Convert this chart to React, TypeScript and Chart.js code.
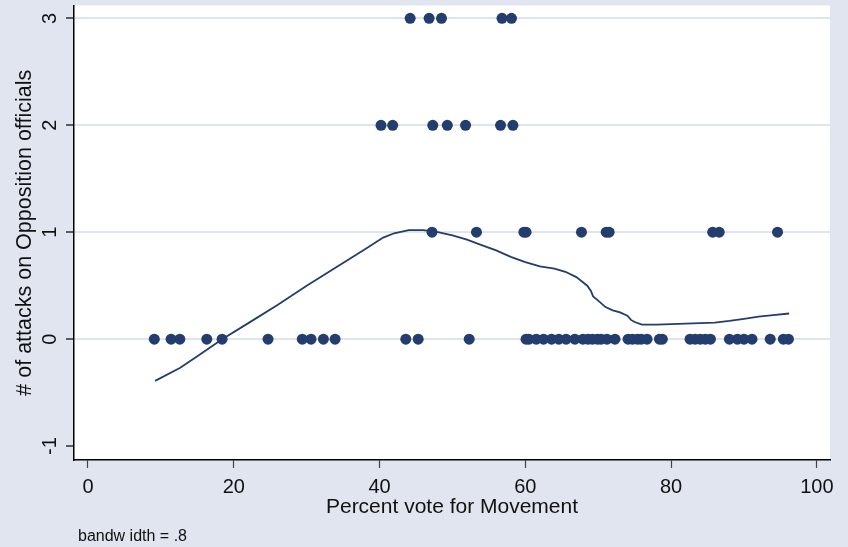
import React, { useEffect, useRef } from "react";
import { Chart, registerables } from "chart.js";

Chart.register(...registerables);

// ---- Data ----
const xTickValues = [0, 20, 40, 60, 80, 100];
const yTickValues = [-1, 0, 1, 2, 3];

// Percent vote for Movement, grouped by # of attacks
const votesAttacks0 = [
  9.1, 11.4, 12.6, 16.3, 18.4, 24.7, 29.4, 30.6, 32.3, 33.9, 43.6, 45.3, 52.3,
  60.1, 60.5, 61.5, 62.5, 63.6, 64.6, 65.6, 66.8, 67.9, 68.6, 69.2, 69.9, 70.4,
  71.2, 72.3, 74.1, 74.7, 75.4, 75.9, 76.7, 78.4, 78.8, 82.6, 83.3, 84.0, 84.7,
  85.4, 88.0, 89.1, 90.0, 91.1, 93.6, 95.4, 96.1,
];
const votesAttacks1 = [47.2, 53.3, 59.8, 60.1, 67.7, 71.1, 71.5, 85.7, 86.6, 94.6];
const votesAttacks2 = [40.2, 41.8, 47.3, 49.3, 51.8, 56.6, 58.3];
const votesAttacks3 = [44.2, 46.8, 48.5, 56.8, 58.1];

// Lowess smoother (bandwidth .8)
const lowessX = [
  9.2, 12.6, 15, 18.4, 22, 26, 30, 34, 38, 40.5, 42, 44, 46, 48, 50, 52, 54, 56,
  58, 60, 62, 64, 65.5, 67, 68.5, 69, 69.3, 70, 71, 72, 73, 74, 74.5, 75, 76,
  78, 80, 82, 84, 86, 88, 90, 92, 94, 96.2,
];
const lowessY = [
  -0.39, -0.27, -0.16, 0.0, 0.15, 0.32, 0.5, 0.67, 0.84, 0.95, 0.99, 1.02, 1.02,
  1.0, 0.97, 0.93, 0.88, 0.83, 0.77, 0.72, 0.68, 0.66, 0.63, 0.58, 0.5, 0.45,
  0.4, 0.36, 0.3, 0.27, 0.25, 0.22, 0.18, 0.16, 0.135, 0.135, 0.14, 0.145, 0.15,
  0.155, 0.17, 0.19, 0.21, 0.225, 0.24,
];

const NAVY = "#233d6e";
const OUTER_BG = "#e1e5f0";
const GRID = "#dfe4ee";
const FONT = "'Liberation Sans', Arial, Helvetica, sans-serif";

const bgPlugin = {
  id: "stataBg",
  beforeDraw(chart: any) {
    const { ctx, chartArea, width, height } = chart;
    ctx.save();
    ctx.fillStyle = OUTER_BG;
    ctx.fillRect(0, 0, width, height);
    ctx.fillStyle = "#ffffff";
    ctx.fillRect(
      chartArea.left,
      chartArea.top,
      chartArea.right - chartArea.left,
      chartArea.bottom - chartArea.top
    );
    ctx.restore();
  },
};

export default function App() {
  const canvasRef = useRef<HTMLCanvasElement | null>(null);

  useEffect(() => {
    if (!canvasRef.current) return;
    const scatterPts = [
      ...votesAttacks0.map((x) => ({ x, y: 0 })),
      ...votesAttacks1.map((x) => ({ x, y: 1 })),
      ...votesAttacks2.map((x) => ({ x, y: 2 })),
      ...votesAttacks3.map((x) => ({ x, y: 3 })),
    ];
    const linePts = lowessX.map((x, i) => ({ x, y: lowessY[i] }));

    const chart = new Chart(canvasRef.current, {
      type: "scatter",
      data: {
        datasets: [
          {
            label: "attacks",
            data: scatterPts,
            backgroundColor: NAVY,
            borderColor: NAVY,
            borderWidth: 0,
            pointRadius: 5.5,
            pointHoverRadius: 5.5,
            order: 2,
          },
          {
            type: "line",
            label: "lowess",
            data: linePts,
            borderColor: NAVY,
            borderWidth: 1.8,
            pointRadius: 0,
            tension: 0,
            fill: false,
            order: 1,
          } as any,
        ],
      },
      options: {
        responsive: false,
        animation: false,
        devicePixelRatio: 1,
        layout: { padding: { top: 4, right: 18, left: 0, bottom: 0 } },
        plugins: {
          legend: { display: false },
          tooltip: { enabled: false },
          title: { display: false },
        },
        scales: {
          x: {
            type: "linear",
            min: -1.92,
            max: 101.8,
            afterBuildTicks: (s: any) => {
              s.ticks = xTickValues.map((v) => ({ value: v }));
            },
            afterFit: (s: any) => {
              s.height = 87;
              s.paddingLeft = 0;
              s.paddingRight = 0;
            },
            ticks: {
              color: "#111",
              font: { family: FONT, size: 20 },
              padding: 7,
              maxRotation: 0,
              minRotation: 0,
              callback: (v: any) => String(v),
            },
            grid: {
              drawOnChartArea: false,
              drawTicks: true,
              tickLength: 8,
              tickColor: "#444",
              tickWidth: 1.2,
            },
            border: { display: true, color: "#000", width: 1.5 },
            title: {
              display: true,
              text: "Percent vote for Movement",
              color: "#111",
              font: { family: FONT, size: 21 },
              padding: { top: 0, bottom: 27 },
            },
          },
          y: {
            type: "linear",
            min: -1.13,
            max: 3.12,
            afterBuildTicks: (s: any) => {
              s.ticks = yTickValues.map((v) => ({ value: v }));
            },
            afterFit: (s: any) => {
              s.width = 74;
              s.paddingTop = 0;
              s.paddingBottom = 0;
            },
            ticks: {
              color: "#111",
              font: { family: FONT, size: 20 },
              padding: 7,
              minRotation: 90,
              maxRotation: 90,
              crossAlign: "center",
              callback: (v: any) => String(v),
            },
            grid: {
              color: (c: any) =>
                c.tick && c.tick.value === -1 ? "rgba(0,0,0,0)" : GRID,
              lineWidth: 2,
              drawTicks: true,
              tickLength: 8,
              tickColor: "#000",
              tickWidth: 1.2,
            },
            border: { display: true, color: "#000", width: 1.5 },
            title: {
              display: true,
              text: "# of attacks on Opposition officials",
              color: "#111",
              font: { family: FONT, size: 21.5 },
              padding: { top: 12.5, bottom: 0 },
            },
          },
        },
      } as any,
      plugins: [bgPlugin],
    });
    return () => chart.destroy();
  }, []);

  return (
    <div
      style={{
        position: "absolute",
        left: 0,
        top: 0,
        width: 848,
        height: 547,
        background: OUTER_BG,
        overflow: "hidden",
      }}
    >
      <canvas ref={canvasRef} width={848} height={547} style={{ display: "block" }} />
      <div
        style={{
          position: "absolute",
          left: 78,
          top: 527.5,
          fontFamily: FONT,
          fontSize: 16,
          lineHeight: "16px",
          color: "#111",
          whiteSpace: "pre",
        }}
      >
        bandw idth = .8
      </div>
    </div>
  );
}
